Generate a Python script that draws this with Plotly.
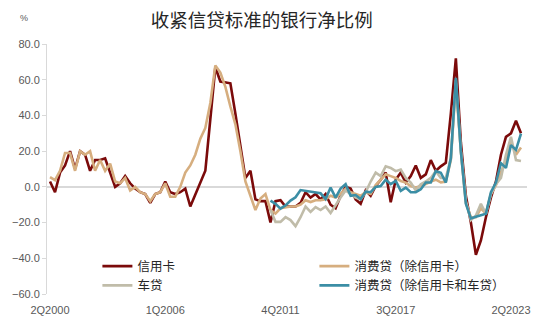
import plotly.graph_objects as go

# Quarterly, 2Q2000 .. 4Q2023
start_q, start_y, n_pts = 2, 2000, 95
quarters = []
q, y = start_q, start_y
for _ in range(n_pts):
    quarters.append(f"{q}Q{y}")
    q += 1
    if q > 4:
        q, y = 1, y + 1

tick_labels = ["2Q2000", "1Q2006", "4Q2011", "3Q2017", "2Q2023"]

credit_card = [
    3, -3, 8, 12, 20, 10, 20, 18, 9, 15,
    15, 16, 8, 0, 2, 6, 2, -1, -3, -4,
    -9, -4, -3, 3, -3, -4, -3, -1, -11, -4,
    2, 9, 38, 67, 59, 58.5, 58, 41, 23, 5,
    9, -7, -8, -8, -20, -8, -7.5, -11, -11, -11,
    -9, -3, -6, -4, -7, -4, -10, -12, -5, 0,
    -1, -7, -9.5, -2, -5, 0.5, 4, 8, -8.6, 4,
    8, 2.4, 6, 12, 5, 7, 15, 9, 11.5, 13.5,
    41, 72, 25, -5, -20, -38, -30, -17, -6, 3,
    18, 28, 30, 37, 30,
]

consumer_ex_card = [
    5.5, 3.8, 9, 19, 19, 9, 20, 18, 20, 9,
    15, 9, 13, 3, 2, 5, -2, 0, -3, -4,
    -8, -4, -3, 2, -5.5, -5.5, 0, 8, 12, 18,
    27, 33, 47, 68, 64, 56, 45, 35, 20, 3,
    -5, -13, -6.5, -4, -13, -15, -12, -11.5, -11, -11,
    -10, -7.5, -8.5, -7.5, -7.5, -7, -5, -6, -4, -1,
    -3, -4, -5, -3, -4, 1, 4, 7, 6, 5,
    3.3, 2.4, 0.5, -0.4, 0.5, 1.5, 3, 4, 2.5, 3,
    15, 58, 20, -9, -17, -17, -12, -15, -4, 1,
    8, 15, 25, 18, 22,
]

auto = [None] * 44 + [
    -13, -19.6, -19.6, -17, -18.6, -22, -17, -11, -14, -11.3,
    -13, -11, -14.6, -10, -6, -2, -4, -6, -7, -3,
    3, 8, 6, 11.5, 10.6, 8.8, 9.7, 5, 2.4, -2,
    1.5, 3, 5, 8.8, 5, 5, 16, 60, 20, -8,
    -18.6, -16, -9.5, -15, -4, 1.5, 5, 18, 28, 15,
    14.5,
]

consumer_ex_card_auto = [None] * 44 + [
    -7.7, -9.5, -12.2, -10.4, -7.7, -5.8, -1.8, -2.2, -3, -3,
    -3.6, -6.8, -0.4, -6, -1, 1.5, -5, -4.6, -6.8, -2.7,
    -3, 0, 0.5, 4, 1.5, 3.3, -2.2, -0.4, -3, -3,
    -1.3, 2.4, 2.4, 8.8, 7.9, 2.4, 16, 61, 20, -9.5,
    -17.7, -16.8, -16, -15, -3, 2.4, 13.3, 10.6, 23.4, 20.7,
    29.8,
]

names = ["信用卡", "消费贷（除信用卡）", "车贷", "消费贷（除信用卡和车贷）"]
colors = ["#7B0A0A", "#D6AE7F", "#C0BCA9", "#3B8EA5"]
series = [credit_card, consumer_ex_card, auto, consumer_ex_card_auto]

xs = list(range(n_pts))
tick_idx = [quarters.index(t) for t in tick_labels]

fig = go.Figure()
for name, col, ys in zip(names, colors, series):
    fig.add_trace(go.Scatter(
        x=xs, y=ys, name=name, mode="lines",
        line=dict(color=col, width=2.6), connectgaps=False,
    ))

font_family = "Liberation Sans, Noto Sans CJK SC, sans-serif"

fig.update_layout(
    width=550, height=328,
    margin=dict(l=44, r=23, t=44, b=29),
    paper_bgcolor="white", plot_bgcolor="white",
    font=dict(family=font_family, size=11, color="#595959"),
    title=dict(text="收紧信贷标准的银行净比例", x=0.476, xanchor="center",
               y=0.937, yanchor="middle",
               font=dict(size=18.5, color="#262626",
                         family="Noto Sans CJK SC, sans-serif")),
    showlegend=True,
    legend=dict(
        orientation="h", x=0.105, xanchor="left", y=0.17, yanchor="top",
        entrywidth=172, entrywidthmode="pixels", itemwidth=30,
        bgcolor="rgba(0,0,0,0)",
        font=dict(size=12.5, color="#262626", family="Noto Sans CJK SC, sans-serif"),
        traceorder="normal",
    ),
    xaxis=dict(
        range=[-0.6, 95.2], tickmode="array", tickvals=tick_idx,
        ticktext=tick_labels, showgrid=False, zeroline=False,
        showline=False, ticks="", ticklabelstandoff=8,
        tickfont=dict(size=11, color="#595959"),
    ),
    yaxis=dict(
        range=[-60, 80], dtick=20, tickformat=".1f", showgrid=False,
        zeroline=True, zerolinecolor="#D9D9D9", zerolinewidth=1.5,
        showline=True, linecolor="#D9D9D9", linewidth=1,
        ticks="outside", ticklen=4, tickcolor="#D9D9D9",
        tickfont=dict(size=11, color="#595959"),
    ),
    annotations=[dict(
        text="%", xref="paper", yref="paper", x=-0.048, y=1.105,
        xanchor="center", yanchor="middle", showarrow=False,
        font=dict(size=9, color="#595959"),
    )],
)

fig.write_html("out.html")
